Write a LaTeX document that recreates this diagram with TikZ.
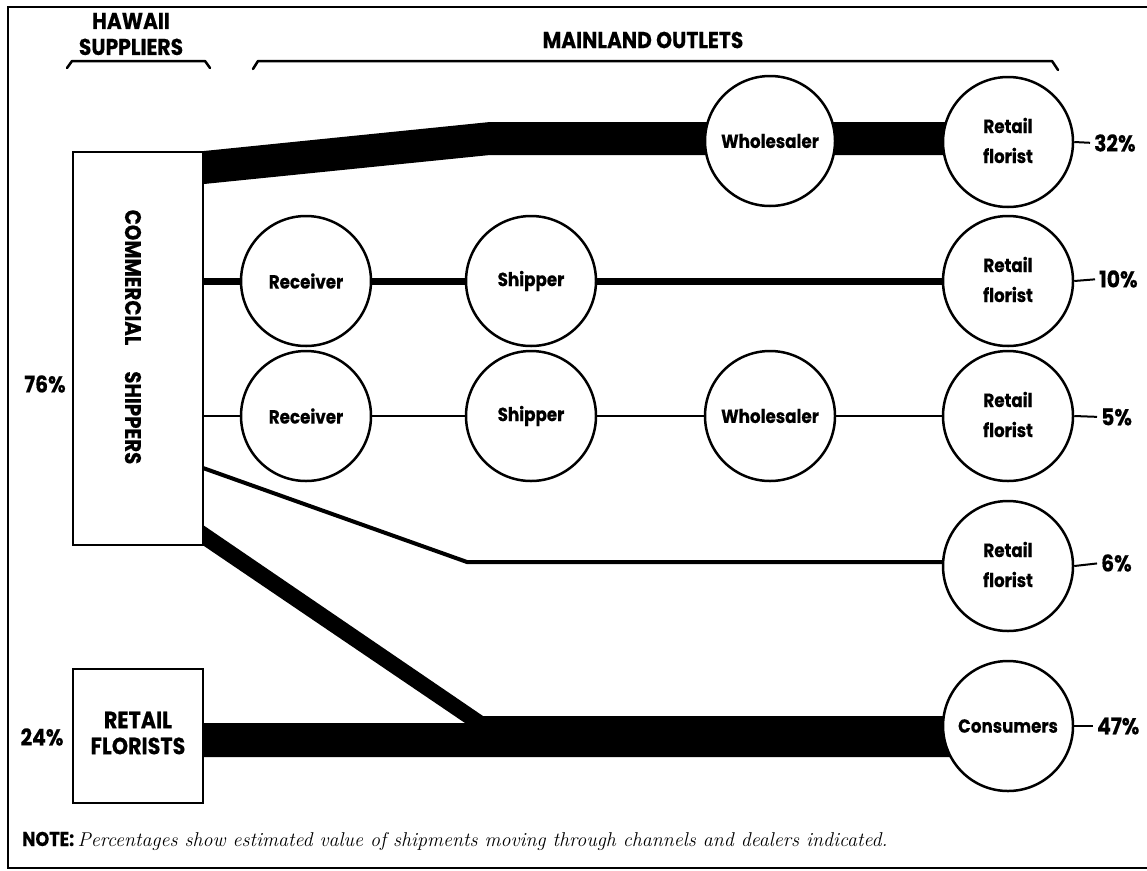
\documentclass[tikz,border=0pt]{standalone}
\usepackage{fontspec}
\newfontfamily\pop{Poppins}[FakeStretch=0.88,FakeBold=0.4]
\usetikzlibrary{calc}
\pgfdeclarelayer{bg}
\pgfsetlayers{bg,main}
\tikzset{
  circ/.style={circle, draw, line width=2.5pt, fill=white, minimum size=130pt, inner sep=0pt,
    font=\pop\bfseries\fontsize{19}{30}\selectfont},
  boxnode/.style={draw, line width=2pt, fill=white, inner sep=0pt, minimum width=130pt,
    font=\pop\bfseries\fontsize{23.5}{26}\selectfont},
  pct/.style={inner sep=0pt, font=\pop\bfseries\fontsize{23}{24}\selectfont},
  head/.style={inner sep=0pt, align=center, font=\pop\bfseries\fontsize{23}{26}\selectfont},
  tick/.style={line width=2pt, shorten >=4pt},
  band/.style={fill=black},
  frame/.style={line width=2pt},
  brace/.style={line width=2.5pt, line join=round, line cap=round},
}
\newcommand{\rflab}{\raisebox{-5pt}{\begin{tabular}{@{}c@{}}Retail\\florist\end{tabular}}}
\begin{document}
\begin{tikzpicture}[x=1pt,y=-1pt]
\useasboundingbox (0,0) rectangle (1147,870);
% frame
\draw[frame] (1147,7) -- (8,7) -- (8,868) -- (1147,868);
% headings and braces
\node[head] (hs) at (131,34) {HAWAII\\SUPPLIERS};
\node[head] (mo) at (643,40) {MAINLAND OUTLETS};
\draw[brace] (67,68) -- (72,61) -- (205,61) -- (210,68);
\draw[brace] (253,69) -- (258,61) -- (1052,61) -- (1058,70);
% boxes
\node[boxnode, minimum height=393pt] (cs) at (138,348.5) {};
\node[inner sep=0pt, rotate=-90, font=\pop\bfseries\fontsize{22.5}{26}\selectfont] (cst) at (133,337) {COMMERCIAL\hspace{26pt}SHIPPERS};
\node[boxnode, minimum height=134pt] (rfb) at (138,736) {\raisebox{-8pt}{\begin{tabular}{@{}c@{}}RETAIL\\FLORISTS\end{tabular}}};
\node[pct] (p76) at (45,384) {76\%};
\node[pct] (p24) at (42,737) {24\%};
% circles
\node[circ] (w1) at (770,141) {Wholesaler};
\node[circ] (rf1) at (1008,142) {\rflab};
\node[circ] (rc2) at (306,281) {Receiver};
\node[circ] (sh2) at (531,281) {Shipper};
\node[circ] (rf2) at (1008,281) {\rflab};
\node[circ] (rc3) at (306,416) {Receiver};
\node[circ] (sh3) at (531,416) {Shipper};
\node[circ] (w3) at (770,416) {Wholesaler};
\node[circ] (rf3) at (1008,416) {\rflab};
\node[circ] (rf4) at (1008,566) {\rflab};
\node[circ] (cons) at (1008,726) {Consumers};
% percentages
\node[pct, anchor=west] (p1) at (1094,143) {32\%};
\node[pct, anchor=west] (p2) at (1099,279) {10\%};
\node[pct, anchor=west] (p3) at (1101,417) {5\%};
\node[pct, anchor=west] (p4) at (1101,563) {6\%};
\node[pct, anchor=west] (p5) at (1097,726) {47\%};
\draw[tick] (rf1.east) -- (p1.west);
\draw[tick] (rf2.east) -- (p2.west);
\draw[tick] (rf3.east) -- (p3.west);
\draw[tick] (rf4.east) -- (p4.west);
\draw[tick] (cons.east) -- (p5.west);
% note
\node[inner sep=0pt, anchor=base west] (note) at (22,846) {{\pop\bfseries\fontsize{20}{22}\selectfont NOTE:} {\fontsize{20}{22}\selectfont\itshape Percentages show estimated value of shipments moving through channels and dealers indicated.}};
% flows
\coordinate (b1t) at (490,122);
\coordinate (b1b) at (490,155);
\coordinate (r4b) at (203,468);
\coordinate (r4k) at (467,562);
\coordinate (dtop) at (203,525);
\coordinate (jA) at (483,716);
\coordinate (jB) at (465,723);
\coordinate (hb) at (0,757);
\begin{pgfonlayer}{bg}
\fill[band] (cs.north east) -- (b1t) -- (b1t -| rf1) -- (b1b -| rf1) -- (b1b) -- ($(cs.north east)+(0,33)$) -- cycle;
\draw[line width=7pt] (cs.east |- rc2) -- (rc2) -- (sh2) -- (rf2);
\draw[line width=2.5pt] (cs.east |- rc3) -- (rc3) -- (sh3) -- (w3) -- (rf3);
\draw[line width=4pt, line join=miter] (r4b) -- (r4k) -- (r4k -| rf4);
\fill[band] (cs.south east) -- (dtop) -- (jA) -- (jA -| cons) -- (hb -| cons) -- (hb -| rfb.east) -- (jB -| rfb.east) -- (jB) -- cycle;
\end{pgfonlayer}
\end{tikzpicture}
\end{document}
